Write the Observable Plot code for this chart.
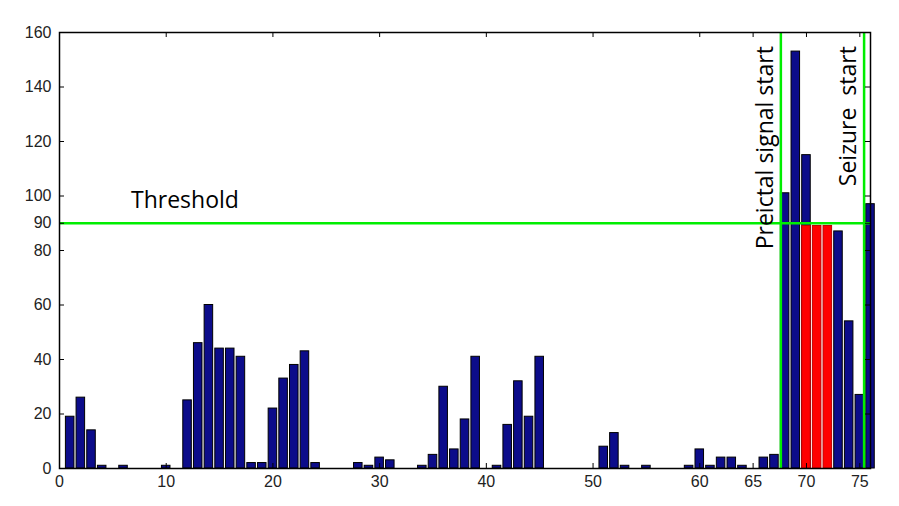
<!DOCTYPE html>
<html><head><meta charset="utf-8">
<script src="https://cdn.jsdelivr.net/npm/d3@7"></script>
<script src="https://cdn.jsdelivr.net/npm/@observablehq/plot@0.6"></script>
<style>body{margin:0;background:#fff}</style>
</head><body><div id="chart"></div>
<script>
// Data
const bins = d3.range(1, 77);
const counts = [19,26,14,1,0,1,0,0,0,1, 0,25,46,60,44,44,41,2,2,22, 33,38,43,2,0,0,0,2,1,4, 3,0,0,1,5,30,7,18,41,0, 1,16,32,19,41,0,0,0,0,0, 8,13,1,0,1,0,0,0,1,7, 1,4,4,1,0,4,5,101,153,115, 0,0,87,54,27,97];
const redBins = [70,71,72];
const redCounts = [89,89,89];
const threshold = [90];
const eventX = [67.6, 75.4];
const xTicks = [0,10,20,30,40,50,60,65,70,75];
const yTicks = [0,20,40,60,80,90,100,120,140,160];
const thresholdLabel = [{x: 6.7, y: 95.6, text: "Threshold"}];
const eventLabels = [
  {x: 66.9, y: 155, text: "Preictal signal start"},
  {x: 74.6, y: 155, text: "Seizure  start"}
];

const barData = bins.map((b, i) => ({x: b, v: counts[i]})).filter(d => d.v > 0);
const redData = redBins.map((b, i) => ({x: b, v: redCounts[i]}));

const W = 899, H = 506, mL = 59, mR = 29, mT = 32, mB = 38;
const fw = W - mL - mR, fh = H - mT - mB, tk = 5;
const green = "#00ee00";

const chart = Plot.plot({
  width: W, height: H,
  marginLeft: mL, marginRight: mR, marginTop: mT, marginBottom: mB,
  x: {domain: [0, 76], label: null},
  y: {domain: [0, 160], label: null},
  style: {fontFamily: "'Liberation Sans', Arial, sans-serif", fontSize: "16px", color: "#222", background: "#fff"},
  marks: [
    Plot.rectY(barData, {x1: d => d.x - 0.4, x2: d => d.x + 0.4, y: "v", fill: "#0c0c8a", stroke: "#000", strokeWidth: 1}),
    Plot.rectY(redData, {x1: d => d.x - 0.4, x2: d => d.x + 0.4, y: "v", fill: "#ff0000", stroke: "#c00000", strokeWidth: 1}),
    Plot.ruleY(threshold, {stroke: green, strokeWidth: 2.5}),
    Plot.ruleX(eventX, {stroke: green, strokeWidth: 2.5}),
    Plot.frame({stroke: "#000", strokeWidth: 1.5}),
    Plot.tickX(xTicks, {insetTop: fh - tk, stroke: "#000"}),
    Plot.tickX(xTicks, {insetBottom: fh - tk, stroke: "#000"}),
    Plot.tickY(yTicks, {insetRight: fw - tk, stroke: "#000"}),
    Plot.tickY(yTicks, {insetLeft: fw - tk, stroke: "#000"}),
    Plot.axisX(xTicks, {tickSize: 0, tickPadding: 7, fontSize: 16, label: null}),
    Plot.axisY(yTicks, {tickSize: 0, tickPadding: 8, fontSize: 16, label: null}),
    Plot.text(thresholdLabel, {x: "x", y: "y", text: "text", textAnchor: "start", lineAnchor: "bottom", fontFamily: "'Open Sans', sans-serif", fontSize: 23, fill: "#000"}),
    Plot.text(eventLabels, {x: "x", y: "y", text: "text", rotate: -90, textAnchor: "end", lineAnchor: "bottom", fontFamily: "'Open Sans', sans-serif", fontSize: 23, fill: "#000"})
  ]
});
document.getElementById("chart").appendChild(chart);
</script>
</body></html>
